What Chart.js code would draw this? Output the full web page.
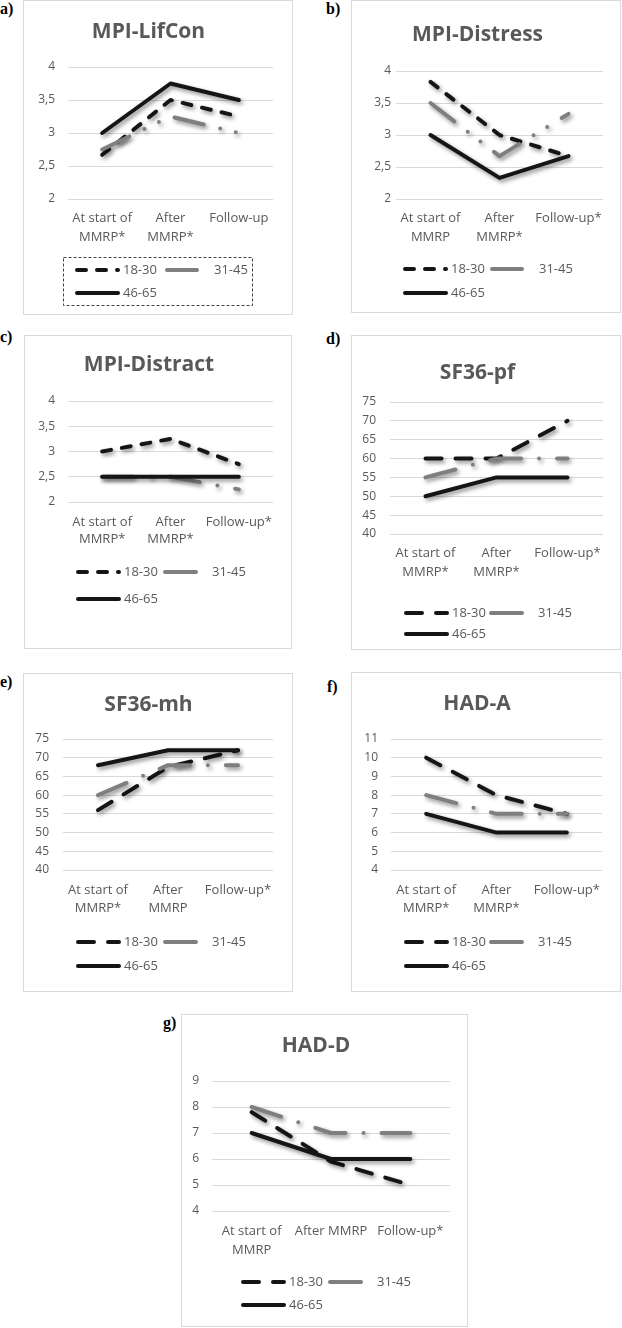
<!DOCTYPE html>
<html lang="en">
<head>
<meta charset="UTF-8">
<title>Outcomes by age group</title>
<script src="https://cdn.jsdelivr.net/npm/chart.js"></script>
<style>
  body { margin: 0; background: #fff; width: 622px; height: 1328px; position: relative; overflow: hidden; }
  .panel { position: absolute; border: 1px solid #d9d9d9; box-sizing: border-box; background: #fff; }
  .panel canvas { position: absolute; left: 0; top: 0; }
  .tag { position: absolute; font: bold 16px/16px "Liberation Serif", "Times New Roman", serif; color: #000; }
</style>
</head>
<body>
<script>
// age groups (legend)
var seriesNames = ['18-30', '31-45', '46-65'];

// a) MPI-LifCon
var lifconLabels = [['At start of', 'MMRP*'], ['After', 'MMRP*'], 'Follow-up'];
var lifconTicks = [2, 2.5, 3, 3.5, 4];
var lifcon1830 = [2.67, 3.5, 3.25];
var lifcon3145 = [2.75, 3.25, 3.0];
var lifcon4665 = [3.0, 3.75, 3.5];

// b) MPI-Distress
var distressLabels = [['At start of', 'MMRP'], ['After', 'MMRP*'], 'Follow-up*'];
var distressTicks = [2, 2.5, 3, 3.5, 4];
var distress1830 = [3.83, 3.0, 2.67];
var distress3145 = [3.5, 2.67, 3.33];
var distress4665 = [3.0, 2.33, 2.67];

// c) MPI-Distract
var distractLabels = [['At start of', 'MMRP*'], ['After', 'MMRP*'], 'Follow-up*'];
var distractTicks = [2, 2.5, 3, 3.5, 4];
var distract1830 = [3.0, 3.25, 2.75];
var distract3145 = [2.5, 2.5, 2.25];
var distract4665 = [2.5, 2.5, 2.5];

// d) SF36-pf
var pfLabels = [['At start of', 'MMRP*'], ['After', 'MMRP*'], 'Follow-up*'];
var pfTicks = [40, 45, 50, 55, 60, 65, 70, 75];
var pf1830 = [60, 60, 70];
var pf3145 = [55, 60, 60];
var pf4665 = [50, 55, 55];

// e) SF36-mh
var mhLabels = [['At start of', 'MMRP*'], ['After', 'MMRP'], 'Follow-up*'];
var mhTicks = [40, 45, 50, 55, 60, 65, 70, 75];
var mh1830 = [56, 67.5, 72];
var mh3145 = [60, 68, 68];
var mh4665 = [68, 72, 72];

// f) HAD-A
var hadaLabels = [['At start of', 'MMRP*'], ['After', 'MMRP*'], 'Follow-up*'];
var hadaTicks = [4, 5, 6, 7, 8, 9, 10, 11];
var hada1830 = [10, 8, 7];
var hada3145 = [8, 7, 7];
var hada4665 = [7, 6, 6];

// g) HAD-D
var haddLabels = [['At start of', 'MMRP'], 'After MMRP', 'Follow-up*'];
var haddTicks = [4, 5, 6, 7, 8, 9];
var hadd1830 = [7.8, 5.9, 5];
var hadd3145 = [8, 7, 7];
var hadd4665 = [7, 6, 6];

var BLACK = '#151515';
var GRAY = '#7f7f7f';
var TEXT = '#595959';
var FONT = '"Open Sans", "Noto Sans", sans-serif';

// line styles: short dash (a-c) / long dash (d-g) for 18-30, long dash dot(dot) for 31-45
var dashShort = [9, 11];
var dashLong = [16, 14];
var dashDotDot = [30, 17, 0, 16, 0, 17];
var dashDot = [31, 18, 0, 18];

// panel geometry in page pixels: box [l,t,r,b], plot [l,r,t,b]
var panels = [
  { tag: 'a)', tagPos: [0, 1], title: 'MPI-LifCon', labels: lifconLabels, ticks: lifconTicks,
    data: [lifcon1830, lifcon3145, lifcon4665], dash18: dashShort, dash31: dashDotDot,
    box: [23, 0, 293, 315], plot: [68, 273, 67, 199], titleY: 32, tickRight: 55, xl: [218, 19],
    cols: [75, 165], rows: [270, 293], frame: [63, 257, 252, 305] },
  { tag: 'b)', tagPos: [326, 1], title: 'MPI-Distress', labels: distressLabels, ticks: distressTicks,
    data: [distress1830, distress3145, distress4665], dash18: dashShort, dash31: dashDotDot,
    box: [351, 0, 621, 313], plot: [396, 603, 71, 199], titleY: 35, tickRight: 391, xl: [218, 19],
    cols: [403, 490], rows: [269, 293] },
  { tag: 'c)', tagPos: [0, 329], title: 'MPI-Distract', labels: distractLabels, ticks: distractTicks,
    data: [distract1830, distract3145, distract4665], dash18: dashShort, dash31: dashDot,
    box: [24, 335, 292, 649], plot: [68, 273, 401, 502], titleY: 365, tickRight: 55, xl: [522, 17],
    cols: [76, 163], rows: [572, 599] },
  { tag: 'd)', tagPos: [326, 331], title: 'SF36-pf', labels: pfLabels, ticks: pfTicks,
    data: [pf1830, pf3145, pf4665], dash18: dashLong, dash31: dashDot,
    box: [351, 335, 621, 650], plot: [390, 603, 402, 534], titleY: 373, tickRight: 376, xl: [553, 19],
    cols: [404, 489], rows: [613, 634] },
  { tag: 'e)', tagPos: [0, 674], title: 'SF36-mh', labels: mhLabels, ticks: mhTicks,
    data: [mh1830, mh3145, mh4665], dash18: dashLong, dash31: dashDot,
    box: [23, 673, 293, 992], plot: [63, 273, 739, 870], titleY: 705, tickRight: 49, xl: [890, 18],
    cols: [76, 163], rows: [942, 966] },
  { tag: 'f)', tagPos: [327, 679], title: 'HAD-A', labels: hadaLabels, ticks: hadaTicks,
    data: [hada1830, hada3145, hada4665], dash18: dashLong, dash31: dashDot,
    box: [351, 672, 621, 992], plot: [391, 602, 739, 870], titleY: 704, tickRight: 378, xl: [890, 18],
    cols: [404, 489], rows: [942, 966] },
  { tag: 'g)', tagPos: [163, 1015], title: 'HAD-D', labels: haddLabels, ticks: haddTicks,
    data: [hadd1830, hadd3145, hadd4665], dash18: dashLong, dash31: dashDot,
    box: [181, 1014, 468, 1327], plot: [212, 450, 1081, 1211], titleY: 1046, tickRight: 199, xl: [1231, 19],
    cols: [241, 328], rows: [1282, 1305] }
];

// soft shadow under the lines, like the Excel effect
var lineShadow = {
  id: 'lineShadow',
  beforeDatasetDraw: function (chart) {
    var c = chart.ctx;
    c.save();
    c.shadowColor = 'rgba(0,0,0,0.45)';
    c.shadowBlur = 4;
    c.shadowOffsetX = 2;
    c.shadowOffsetY = 2.5;
  },
  afterDatasetDraw: function (chart) {
    chart.ctx.restore();
  }
};

// two-column legend drawn with the datasets' own styles
var ageLegend = {
  id: 'ageLegend',
  afterDraw: function (chart, args, o) {
    var ctx = chart.ctx;
    var slots = [[o.cols[0], o.rows[0], 48], [o.cols[1], o.rows[0], 49], [o.cols[0], o.rows[1], 48]];
    chart.data.datasets.forEach(function (ds, i) {
      var s = slots[i];
      ctx.save();
      ctx.strokeStyle = ds.borderColor;
      ctx.lineWidth = ds.borderWidth;
      ctx.lineCap = 'round';
      ctx.setLineDash(ds.borderDash || []);
      ctx.beginPath();
      ctx.moveTo(s[0] + 2, s[1]);
      ctx.lineTo(s[0] + 43, s[1]);
      ctx.stroke();
      ctx.restore();
      ctx.save();
      ctx.fillStyle = TEXT;
      ctx.font = '13px ' + FONT;
      ctx.textBaseline = 'middle';
      ctx.fillText(ds.label, s[0] + s[2], s[1] + 0.5);
      ctx.restore();
    });
    if (o.frame) {
      ctx.save();
      ctx.strokeStyle = '#404040';
      ctx.lineWidth = 1;
      ctx.setLineDash([3, 2]);
      ctx.strokeRect(o.frame[0] + 0.5, o.frame[1] + 0.5, o.frame[2] - o.frame[0], o.frame[3] - o.frame[1]);
      ctx.restore();
    }
  }
};

panels.forEach(function (p) {
  var tag = document.createElement('div');
  tag.className = 'tag';
  tag.textContent = p.tag;
  tag.style.left = p.tagPos[0] + 'px';
  tag.style.top = p.tagPos[1] + 'px';
  document.body.appendChild(tag);

  var w = p.box[2] - p.box[0], h = p.box[3] - p.box[1];
  var div = document.createElement('div');
  div.className = 'panel';
  div.style.left = p.box[0] + 'px';
  div.style.top = p.box[1] + 'px';
  div.style.width = w + 'px';
  div.style.height = h + 'px';
  var cv = document.createElement('canvas');
  var cw = w - 2, ch = h - 2;
  cv.width = cw; cv.height = ch;
  cv.style.width = cw + 'px'; cv.style.height = ch + 'px';
  div.appendChild(cv);
  document.body.appendChild(div);

  var ox = p.box[0] + 1, oy = p.box[1] + 1;
  var plotL = p.plot[0] - ox, plotR = p.plot[1] - ox, plotT = p.plot[2] - oy, plotB = p.plot[3] - oy;
  var titleH = 21 * 1.2;
  var tCenter = p.titleY - oy;
  var ticks = p.ticks;

  new Chart(cv.getContext('2d'), {
    type: 'line',
    data: {
      labels: p.labels,
      datasets: [
        { label: seriesNames[0], data: p.data[0], borderColor: BLACK, borderWidth: 4, borderDash: p.dash18, order: 2 },
        { label: seriesNames[1], data: p.data[1], borderColor: GRAY, borderWidth: 4, borderDash: p.dash31, order: 1 },
        { label: seriesNames[2], data: p.data[2], borderColor: BLACK, borderWidth: 4, order: 0 }
      ]
    },
    options: {
      responsive: false,
      animation: false,
      devicePixelRatio: 1,
      layout: { padding: { left: 0, right: cw - plotR, top: 0, bottom: 0 } },
      elements: {
        point: { radius: 0, hoverRadius: 0 },
        line: { tension: 0, borderCapStyle: 'round', borderJoinStyle: 'round', fill: false }
      },
      plugins: {
        legend: { display: false },
        tooltip: { enabled: false },
        title: {
          display: true, text: p.title, color: TEXT,
          font: { family: FONT, size: 21, weight: 'bold', lineHeight: 1.2 },
          padding: { top: tCenter - titleH / 2, bottom: plotT - (tCenter + titleH / 2) }
        },
        ageLegend: {
          cols: [p.cols[0] - ox, p.cols[1] - ox],
          rows: [p.rows[0] - oy, p.rows[1] - oy],
          frame: p.frame ? [p.frame[0] - ox, p.frame[1] - oy, p.frame[2] - ox, p.frame[3] - oy] : null
        }
      },
      scales: {
        x: {
          offset: true,
          grid: { display: false, drawTicks: false },
          border: { display: false },
          ticks: {
            color: TEXT, autoSkip: false, maxRotation: 0, minRotation: 0,
            font: { family: FONT, size: 13, lineHeight: p.xl[1] + 'px' },
            padding: (p.xl[0] - p.plot[3]) - p.xl[1] / 2
          },
          afterFit: function (s) { s.height = ch - plotB; }
        },
        y: {
          min: ticks[0], max: ticks[ticks.length - 1],
          grid: { color: '#d9d9d9', lineWidth: 1, drawTicks: false },
          border: { display: false },
          ticks: {
            stepSize: ticks[1] - ticks[0], color: TEXT,
            font: { family: FONT, size: 12 },
            padding: p.plot[0] - p.tickRight,
            callback: function (v) { return String(v).replace('.', ','); }
          },
          afterFit: function (s) { s.width = plotL; }
        }
      }
    },
    plugins: [lineShadow, ageLegend]
  });
});
</script>
</body>
</html>
